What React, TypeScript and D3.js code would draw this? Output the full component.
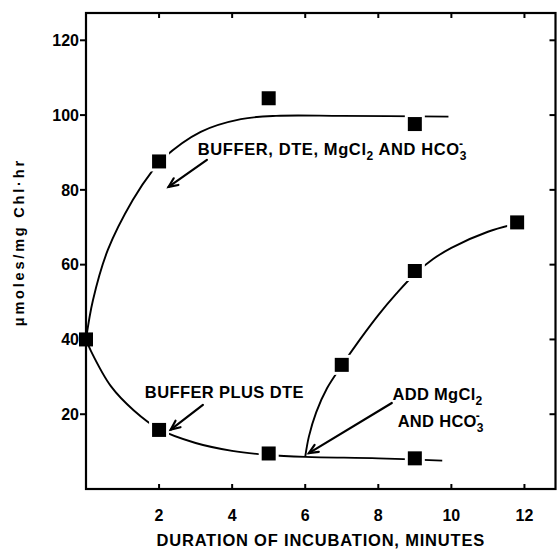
import React from 'react'
import * as d3 from 'd3'

// axis ticks
const X_TICKS = [2, 4, 6, 8, 10, 12]
const Y_TICKS = [20, 40, 60, 80, 100, 120]

// measured points (minutes, umoles/mg Chl.hr)
const POINTS_FULL = [[0, 40], [2, 87.6], [5, 104.5], [9, 97.6]]
const POINTS_DTE = [[2, 15.8], [5, 9.5], [9, 8.2]]
const POINTS_ADD = [[7, 33.2], [9, 58.3], [11.8, 71.3]]

// hand drawn fit lines
const CURVE_FULL = [
  [0, 40], [0.19, 50.5], [0.6, 64], [1.28, 77.3], [1.83, 85.3], [2.1, 88.3],
  [3.14, 95.5], [4.24, 98.9], [5.2, 99.8], [7, 99.8], [9.92, 99.6],
]
const CURVE_DTE = [
  [0, 40], [0.14, 36.8], [0.68, 27.5], [1.31, 21], [2, 16], [3, 12.3],
  [4, 10.2], [5, 9.1], [6, 8.6], [8, 8.2], [9.75, 7.6],
]
const CURVE_ADD = [
  [6, 8.6], [6.1, 14], [6.3, 20.5], [6.6, 27], [7, 33], [7.5, 40],
  [8, 46.5], [8.5, 52.3], [9, 57.5], [9.5, 61.5], [10, 64.5], [11, 68.8], [11.8, 71],
]

// annotation arrows: [fromX, fromY, toX, toY]
const ARROWS = [
  [3.31, 88, 2.26, 80.8],
  [3.2, 22.5, 2.32, 15.9],
  [8.37, 23, 6.1, 9.6],
]

const FONT = 'Liberation Sans, Arial, sans-serif'

function Arrow({ x1, y1, x2, y2 }: { x1: number; y1: number; x2: number; y2: number }) {
  const a = Math.atan2(y1 - y2, x1 - x2)
  const len = 10
  const spread = 0.42
  const h1 = [x2 + len * Math.cos(a + spread), y2 + len * Math.sin(a + spread)]
  const h2 = [x2 + len * Math.cos(a - spread), y2 + len * Math.sin(a - spread)]
  return (
    <g stroke="#000" strokeWidth={2.2} fill="none" strokeLinecap="round">
      <line x1={x1} y1={y1} x2={x2} y2={y2} />
      <path d={`M${h1[0]},${h1[1]} L${x2},${y2} L${h2[0]},${h2[1]}`} strokeLinejoin="miter" />
    </g>
  )
}

export default function App() {
  const width = 557
  const height = 551

  const x = d3.scaleLinear().domain([0, 12.85]).range([86, 555.5])
  const y = d3.scaleLinear().domain([0, 127.3]).range([489, 13])

  const line = d3
    .line<number[]>()
    .x((d) => x(d[0]))
    .y((d) => y(d[1]))
    .curve(d3.curveCatmullRom.alpha(0.5))

  const allPoints = [POINTS_FULL, POINTS_DTE, POINTS_ADD].flat()
  const sq = 14
  const [x0, x1] = x.range()
  const [y0, y1] = y.range()

  const textStyle = { fontFamily: FONT, fontWeight: 700, fill: '#000' } as React.CSSProperties

  return (
    <svg
      width={width}
      height={height}
      style={{ position: 'absolute', left: 0, top: 0, background: '#fff' }}
    >
      {/* fit lines */}
      {[CURVE_FULL, CURVE_DTE, CURVE_ADD].map((c, i) => (
        <path key={i} d={line(c) || ''} fill="none" stroke="#000" strokeWidth={1.9} />
      ))}

      {/* white halo so lines stop short of the markers */}
      {allPoints.slice(1).map((p, i) => (
        <rect
          key={'h' + i}
          x={x(p[0]) - sq / 2 - 3}
          y={y(p[1]) - sq / 2 - 3}
          width={sq + 6}
          height={sq + 6}
          fill="#fff"
        />
      ))}

      {/* frame */}
      <rect x={x0} y={y1} width={x1 - x0} height={y0 - y1} fill="none" stroke="#000" strokeWidth={2.2} />

      {/* ticks */}
      {Y_TICKS.map((t) => (
        <g key={'y' + t}>
          <line x1={x0 - 6} x2={x0} y1={y(t)} y2={y(t)} stroke="#000" strokeWidth={2} />
          <line x1={x1 - 6} x2={x1} y1={y(t)} y2={y(t)} stroke="#000" strokeWidth={2} />
          <text x={x0 - 7} y={y(t)} dy="0.36em" textAnchor="end" fontSize={16} style={textStyle}>
            {t}
          </text>
        </g>
      ))}
      {X_TICKS.map((t) => (
        <g key={'x' + t}>
          <line x1={x(t)} x2={x(t)} y1={y0} y2={y0 - 5} stroke="#000" strokeWidth={2} />
          <line x1={x(t)} x2={x(t)} y1={y1} y2={y1 + 5} stroke="#000" strokeWidth={2} />
          <text x={x(t)} y={y0 + 32} textAnchor="middle" fontSize={16} style={textStyle}>
            {t}
          </text>
        </g>
      ))}

      {/* markers */}
      {allPoints.map((p, i) => (
        <rect key={'m' + i} x={x(p[0]) - sq / 2} y={y(p[1]) - sq / 2} width={sq} height={sq} fill="#000" />
      ))}

      {/* axis titles */}
      <text
        x={(x0 + x1) / 2}
        y={546}
        textAnchor="middle"
        fontSize={16.5}
        letterSpacing={0.8}
        style={textStyle}
      >
        DURATION OF INCUBATION, MINUTES
      </text>
      <text
        transform={`translate(24,${y(66)}) rotate(-90)`}
        textAnchor="middle"
        fontSize={14.5}
        letterSpacing={2.8}
        style={textStyle}
      >
        μmoles/mg Chl·hr
      </text>

      {/* annotations */}
      <text x={x(3.06)} y={y(89.3)} fontSize={16.5} letterSpacing={0.6} style={textStyle}>
        BUFFER, DTE, MgCl
        <tspan fontSize={12} dy={5}>2</tspan>
        <tspan dy={-5}> AND HCO</tspan>
        <tspan fontSize={12} dy={5}>3</tspan>
        <tspan fontSize={12} dx={-8} dy={-12}>-</tspan>
      </text>
      <text x={x(1.61)} y={y(24.3)} fontSize={16.5} letterSpacing={0.4} style={textStyle}>
        BUFFER PLUS DTE
      </text>
      <text x={x(8.39)} y={y(23.8)} fontSize={16.5} letterSpacing={0.3} style={textStyle}>
        ADD MgCl
        <tspan fontSize={12} dy={5}>2</tspan>
      </text>
      <text x={x(8.53)} y={y(16.6)} fontSize={16.5} letterSpacing={0.3} style={textStyle}>
        AND HCO
        <tspan fontSize={12} dy={5}>3</tspan>
        <tspan fontSize={12} dx={-8} dy={-12}>-</tspan>
      </text>

      {ARROWS.map((a, i) => (
        <Arrow key={'a' + i} x1={x(a[0])} y1={y(a[1])} x2={x(a[2])} y2={y(a[3])} />
      ))}
    </svg>
  )
}
